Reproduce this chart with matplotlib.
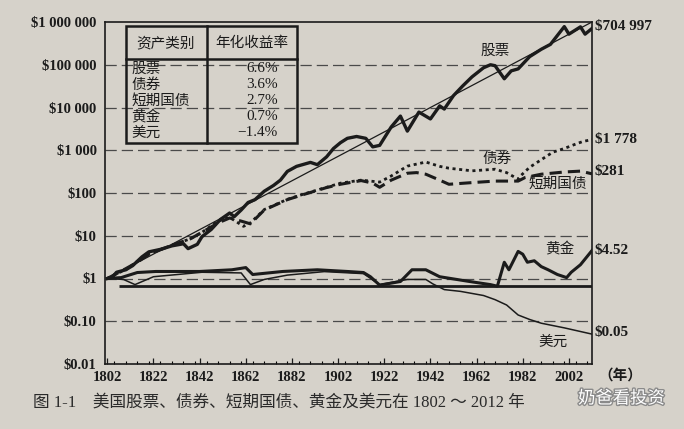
import matplotlib
matplotlib.use("Agg")
import matplotlib.pyplot as plt
from matplotlib.patches import Rectangle
from matplotlib.lines import Line2D
import numpy as np

plt.rcParams['font.family'] = ['Liberation Serif', 'Noto Sans CJK SC', 'DejaVu Sans']

# ---------------- data ----------------
stock_years = [1802, 1804, 1806, 1810, 1813, 1817, 1820, 1825, 1830, 1835, 1837, 1841, 1843,
               1847, 1851, 1855, 1857, 1860, 1863, 1866, 1870, 1874, 1877, 1880, 1884, 1890,
               1893, 1897, 1900, 1903, 1906, 1910, 1914, 1917, 1920, 1925, 1929, 1932, 1937,
               1942, 1946, 1948, 1952, 1956, 1960, 1965, 1968, 1970, 1974, 1977, 1980, 1985,
               1990, 1994, 2000, 2002, 2007, 2009, 2012]
stock_vals = [1.0, 1.05, 1.4, 1.6, 2.0, 3.2, 4.2, 4.8, 5.8, 6.5, 5.0, 6.3, 9.5,
              14, 24, 34, 28, 40, 60, 70, 110, 150, 200, 320, 420, 520,
              460, 700, 1100, 1500, 1900, 2100, 1900, 1200, 1300, 3500, 6300, 2800, 7800,
              5400, 10900, 9200, 19000, 32000, 52000, 85000, 100000, 95000, 47000, 72000, 80000, 155000,
              230000, 300000, 780000, 520000, 770000, 520000, 704997]

bond_years = [1802, 1806, 1810, 1815, 1820, 1830, 1838, 1843, 1850, 1855, 1861, 1864, 1870,
              1880, 1887, 1897, 1903, 1912, 1920, 1925, 1932, 1940, 1946, 1950, 1960, 1970,
              1975, 1980, 1981, 1985, 1990, 1995, 2000, 2005, 2008, 2012]
bond_vals = [1.0, 1.3, 1.6, 2.5, 3.8, 6.0, 8.5, 12, 22, 27, 16.6, 20, 41,
             71, 94, 136, 170, 200, 180, 250, 425, 530, 420, 380, 330, 360,
             300, 210, 250, 400, 600, 900, 1100, 1400, 1600, 1778]

bill_years = [1802, 1806, 1810, 1815, 1820, 1830, 1838, 1843, 1850, 1855, 1860, 1864, 1870,
              1880, 1887, 1897, 1903, 1912, 1917, 1920, 1925, 1932, 1936, 1940, 1946, 1950,
              1960, 1970, 1975, 1980, 1983, 1990, 2000, 2007, 2012]
bill_vals = [1.0, 1.3, 1.7, 2.4, 3.7, 6.0, 8.5, 12, 20, 26, 22, 19, 40,
             70, 92, 134, 160, 195, 170, 136, 200, 290, 300, 275, 200, 160,
             175, 190, 190, 190, 230, 275, 310, 325, 281]

gold_years = [1802, 1808, 1815, 1823, 1842, 1856, 1862, 1865, 1878, 1893, 1906, 1913, 1916,
              1920, 1929, 1934, 1940, 1946, 1959, 1968, 1971, 1974, 1976, 1980, 1982, 1984,
              1987, 1990, 1993, 1997, 2001, 2003, 2007, 2012]
gold_vals = [1.0, 1.05, 1.38, 1.46, 1.46, 1.6, 1.8, 1.24, 1.46, 1.6, 1.46, 1.38, 1.1,
             0.7, 0.85, 1.6, 1.6, 1.1, 0.85, 0.72, 0.66, 2.4, 1.6, 4.3, 3.7, 2.4,
             2.6, 1.9, 1.6, 1.24, 1.05, 1.4, 2.1, 4.52]

dollar_years = [1802, 1809, 1814, 1822, 1843, 1860, 1864, 1870, 1880, 1896, 1913, 1920, 1932,
                1940, 1943, 1948, 1955, 1965, 1970, 1975, 1980, 1985, 1990, 2000, 2012]
dollar_vals = [1.0, 0.95, 0.72, 1.1, 1.4, 1.35, 0.72, 0.95, 1.2, 1.45, 1.3, 0.72, 0.95,
               0.95, 0.75, 0.55, 0.5, 0.4, 0.32, 0.24, 0.14, 0.11, 0.09, 0.07, 0.05]

trend_years = [1802, 2012]
trend_vals = [1.0, 1.0e6]

base_years = [1807, 2012]
base_vals = [0.68, 0.68]

series_names = ['股票', '债券', '短期国债', '黄金', '美元']
end_labels = ['$704 997', '$1 778', '$281', '$4.52', '$0.05']

table_header = ['资产类别', '年化收益率']
table_assets = ['股票', '债券', '短期国债', '黄金', '美元']
table_returns = ['6.6%', '3.6%', '2.7%', '0.7%', '−1.4%']

y_ticks = [0.01, 0.1, 1, 10, 100, 1e3, 1e4, 1e5, 1e6]
y_ticklabels = ['$0.01', '$0.10', '$1', '$10', '$100', '$1 000', '$10 000', '$100 000', '$1 000 000']
x_ticks = [1802, 1822, 1842, 1862, 1882, 1902, 1922, 1942, 1962, 1982, 2002]

caption = '图 1-1　美国股票、债券、短期国债、黄金及美元在 1802 ～ 2012 年'
watermark = '奶爸看投资'

# ---------------- figure ----------------
W, H = 684, 429
bg = '#d6d2ca'
ink = '#1b1b1b'
fig = plt.figure(figsize=(W / 100, H / 100), dpi=100, facecolor=bg)

def fx(x):
    return x / W

def fy(y):
    return 1 - y / H

ax = fig.add_axes([fx(105), fy(364), fx(592) - fx(105), fy(22) - fy(364)])
ax.set_facecolor(bg)
ax.set_yscale('log')
ax.set_ylim(0.01, 1e6)
ax.set_xlim(1801, 2012)

for v in y_ticks[1:-1]:
    ax.axhline(v, color='#4a4a4a', lw=0.9, ls=(0, (9, 4)), zorder=1)

ax.plot(trend_years, trend_vals, color=ink, lw=0.9, zorder=3)
ax.plot(base_years, base_vals, color=ink, lw=2.0, zorder=3, solid_capstyle='butt')
ax.plot(stock_years, stock_vals, color=ink, lw=2.4, zorder=4, solid_joinstyle='round')
ax.plot(bond_years, bond_vals, color=ink, lw=2.0, ls=(0, (1.1, 1.3)), zorder=4)
ax.plot(bill_years, bill_vals, color=ink, lw=2.2, ls=(0, (4, 2)), zorder=4)
ax.plot(gold_years, gold_vals, color=ink, lw=2.2, zorder=4, solid_joinstyle='round')
ax.plot(dollar_years, dollar_vals, color=ink, lw=1.1, zorder=4)

# series name labels
name_pos = [(1970, 2.1e5), (1971, 620), (1997, 160), (1998, 4.8), (1995, 0.033)]
for name, (xx, yy) in zip(series_names, name_pos):
    ax.text(xx, yy, name, fontsize=10.5, color=ink, ha='center', va='center', zorder=6)

# end value labels
end_vals = [stock_vals[-1] * 1.1, bond_vals[-1] * 1.02, bill_vals[-1] * 1.12, gold_vals[-1], dollar_vals[-1] * 1.08]
for lab, v in zip(end_labels, end_vals):
    ax.annotate(lab, xy=(2012, v), xytext=(2, 0), textcoords='offset points',
                fontsize=11, color=ink, ha='left', va='center', annotation_clip=False,
                fontweight='bold')

ax.set_yticks(y_ticks)
ax.set_yticklabels(y_ticklabels, fontsize=10.5, fontweight='bold', color=ink)
ax.yaxis.set_minor_locator(matplotlib.ticker.NullLocator())
ax.set_xticks(x_ticks)
ax.set_xticklabels([str(x) for x in x_ticks], fontsize=10.5, fontweight='bold', color=ink)
ax.set_xticks(np.arange(1805, 2012, 5), minor=True)
ax.tick_params(axis='x', which='major', direction='in', length=4, width=0.9, pad=5, colors=ink)
ax.tick_params(axis='x', which='minor', direction='in', length=2.5, width=0.8)
ax.tick_params(axis='y', which='major', length=0, pad=6)
for s in ax.spines.values():
    s.set_color(ink)
    s.set_linewidth(1.2)

fig.text(fx(598), fy(376), '（年）', fontsize=10.5, color=ink, ha='left', va='center', fontweight='bold')

# table
fig.add_artist(Rectangle((fx(126), fy(143)), fx(297) - fx(126), fy(26) - fy(143),
                         transform=fig.transFigure, fill=False, ec=ink, lw=1.8, zorder=5))
fig.add_artist(Line2D([fx(126), fx(297)], [fy(59), fy(59)], transform=fig.transFigure, color=ink, lw=1.8))
fig.add_artist(Line2D([fx(207), fx(207)], [fy(26), fy(143)], transform=fig.transFigure, color=ink, lw=1.8))
fig.text(fx(166), fy(43), table_header[0], fontsize=10.5, color=ink, ha='center', va='center')
fig.text(fx(252), fy(43), table_header[1], fontsize=10.5, color=ink, ha='center', va='center')
row_y = [69, 85, 101, 117, 133]
for a, r, yy in zip(table_assets, table_returns, row_y):
    fig.text(fx(131), fy(yy), a, fontsize=10.5, color=ink, ha='left', va='center')
    fig.text(fx(278), fy(yy), r, fontsize=11, color=ink, ha='right', va='center')

# caption & watermark
fig.text(fx(33), fy(403), caption, fontsize=12, color='#2a2a2a', ha='left', va='center')
import matplotlib.patheffects as pe
fig.text(fx(578), fy(399), watermark, fontsize=12.5, color='white', ha='left', va='center',
         path_effects=[pe.withStroke(linewidth=2, foreground='#8a8a8a')])

fig.savefig('out.png', dpi=100, facecolor=bg)
